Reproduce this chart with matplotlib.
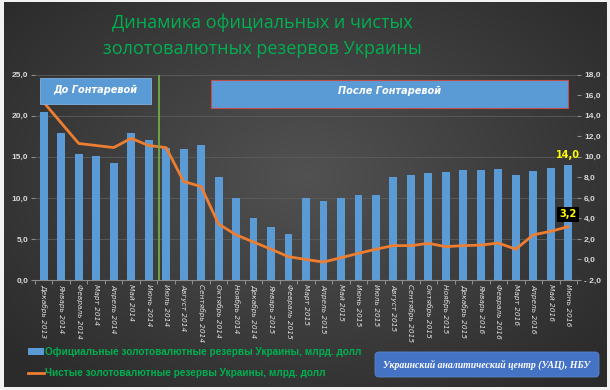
import numpy as np
import matplotlib
matplotlib.use("Agg")
import matplotlib.pyplot as plt
from matplotlib.patches import Rectangle, FancyBboxPatch

months = ["Декабрь 2013", "Январь 2014", "Февраль 2014", "Март 2014", "Апрель 2014",
          "Май 2014", "Июнь 2014", "Июль 2014", "Август 2014", "Сентябрь 2014",
          "Октябрь 2014", "Ноябрь 2014", "Декабрь 2014", "Январь 2015", "Февраль 2015",
          "Март 2015", "Апрель 2015", "Май 2015", "Июнь 2015", "Июль 2015",
          "Август 2015", "Сентябрь 2015", "Октябрь 2015", "Ноябрь 2015", "Декабрь 2015",
          "Январь 2016", "Февраль 2016", "Март 2016", "Апрель 2016", "Май 2016", "Июнь 2016"]
official = [20.4, 17.9, 15.4, 15.1, 14.25, 17.9, 17.1, 16.1, 16.0, 16.4,
            12.6, 9.95, 7.5, 6.4, 5.6, 10.0, 9.6, 10.0, 10.3, 10.4,
            12.6, 12.8, 13.0, 13.2, 13.35, 13.4, 13.5, 12.75, 13.3, 13.6, 14.0]
net = [15.3, 13.3, 11.3, 11.1, 10.9, 11.8, 11.1, 10.9, 7.6, 7.1,
       3.45, 2.4, 1.7, 1.0, 0.27, 0.0, -0.25, 0.17, 0.6, 1.0,
       1.35, 1.35, 1.57, 1.25, 1.35, 1.4, 1.6, 1.0, 2.4, 2.74, 3.2]
left_ticks = [0, 5, 10, 15, 20, 25]
right_ticks = [-2, 0, 2, 4, 6, 8, 10, 12, 14, 16, 18]

W, H = 610, 390
fig = plt.figure(figsize=(W / 100, H / 100), dpi=100)

def fx(x):
    return x / W

def fy(y):
    return 1 - y / H

def fmt(v):
    return f"{v:.1f}".replace(".", ",")

# background with radial gradient
bg = fig.add_axes([0, 0, 1, 1])
bg.set_axis_off()
yy, xx = np.mgrid[0:H, 0:W]
r = np.sqrt(((xx - W * 0.5) / (W * 0.6)) ** 2 + ((yy - H * 0.45) / (H * 0.65)) ** 2)
val = np.clip(0.32 - 0.14 * r, 0.17, 0.33)
img = np.dstack([val, val, val])
bg.imshow(img, extent=[0, W, H, 0], aspect="auto", interpolation="bilinear")
bg.set_xlim(0, W)
bg.set_ylim(H, 0)
for (x0, y0, w, h) in [(0, 0, 4, H), (W - 3, 0, 3, H), (0, 0, W, 2), (0, H - 3, W, 3)]:
    bg.add_patch(Rectangle((x0, y0), w, h, color="#f2f2f2", lw=0))

TICKFONT = dict(fontsize=6, color="#d9d9d9", fontweight="bold", family="Liberation Sans")

# main axes
ax = fig.add_axes([fx(35), fy(280), fx(577) - fx(35), fy(74.7) - fy(280)])
ax.patch.set_alpha(0)
x = np.arange(len(months))
ax.bar(x, official, width=0.45, color="#5b9bd5", zorder=2)
ax.set_xlim(-0.5, len(months) - 0.5)
ax.set_ylim(0, 25)
ax.set_yticks(left_ticks)
ax.set_yticklabels([fmt(v) for v in left_ticks], **TICKFONT)
ax.grid(axis="y", color="#5c5c5c", lw=0.6, zorder=0)
ax.set_axisbelow(True)
ax.set_xticks(np.arange(-0.5, len(months), 1), minor=False)
ax.set_xticklabels([])
ax.set_xticks(x, minor=True)
ax.set_xticklabels(months, minor=True, rotation=270, fontsize=5.3, style="italic",
                   color="#e0e0e0", va="top", ha="center")
ax.tick_params(axis="x", which="minor", length=0, pad=3)
ax.tick_params(axis="x", which="major", length=3, color="#8c8c8c")
ax.tick_params(axis="y", length=3, color="#8c8c8c", pad=2)
for s in ["top", "right", "left"]:
    ax.spines[s].set_visible(False)
ax.spines["bottom"].set_color("#8c8c8c")
ax.spines["bottom"].set_linewidth(0.8)

ax2 = ax.twinx()
ax2.set_ylim(-2, 18)
ax2.set_yticks(right_ticks)
ax2.set_yticklabels([fmt(v).replace("-", "- ") for v in right_ticks], **TICKFONT)
ax2.tick_params(axis="y", length=3, color="#8c8c8c", pad=2)
for s in ["top", "right", "left", "bottom"]:
    ax2.spines[s].set_visible(False)
ax2.plot(x, net, color="#ed7d31", lw=2.0, zorder=3, solid_joinstyle="round")

# green divider line
ax2.plot([6.6, 6.6], [-2, 18], color="#70ad47", lw=1.3, zorder=4)

# annotations
ax.text(x[-1], official[-1] + 0.6, fmt(official[-1]), color="#ffff00", fontsize=7,
        fontweight="bold", ha="center", va="bottom", zorder=6)
ax2.text(x[-1], net[-1] + 0.7, fmt(net[-1]), color="#ffff00",
         fontsize=7, fontweight="bold", ha="center", va="bottom", zorder=6,
         bbox=dict(boxstyle="square,pad=0.25", fc="black", ec="none"))

# overlay for boxes and texts
ov = fig.add_axes([0, 0, 1, 1])
ov.set_axis_off()
ov.set_xlim(0, W)
ov.set_ylim(H, 0)
ov.patch.set_alpha(0)

ov.add_patch(Rectangle((40, 78), 111, 26, fc="#5b9bd5", ec="#7fb2e0", lw=0.6, zorder=5))
ov.text(95.5, 90, "До Гонтаревой", color="white", fontsize=7, fontweight="bold",
        style="italic", ha="center", va="center", zorder=6)
ov.add_patch(Rectangle((210.7, 80), 357.6, 27.7, fc="#5b9bd5", ec="#c0504d", lw=0.8, zorder=5))
ov.text(390, 91, "После Гонтаревой", color="white", fontsize=7, fontweight="bold",
        style="italic", ha="center", va="center", zorder=6)

# title
ov.text(262, 23, "Динамика официальных и чистых", color="#00b050", fontsize=13,
        ha="center", va="center", family="Open Sans")
ov.text(262, 49, "золотовалютных резервов Украины", color="#00b050", fontsize=13,
        ha="center", va="center", family="Open Sans")

# legend
LEGFONT = dict(color="#00b050", fontsize=7.2, fontweight="bold", family="Liberation Sans",
               ha="left", va="center")
ov.add_patch(Rectangle((28, 348), 16, 7, fc="#5b9bd5", ec="none"))
ov.text(45, 352, "Официальные золотовалютные резервы Украины, млрд. долл", **LEGFONT)
ov.plot([28, 44], [373, 373], color="#ed7d31", lw=2)
ov.text(45, 373, "Чистые золотовалютные резервы Украины, млрд. долл", **LEGFONT)

# source box
ov.add_patch(FancyBboxPatch((375, 352), 224, 25, boxstyle="round,pad=0,rounding_size=4",
                            fc="#4472c4", ec="#5b84cc", lw=0.6))
ov.text(487, 364.5, "Украинский аналитический центр (УАЦ), НБУ", color="white",
        fontsize=7, fontweight="bold", style="italic", family="Liberation Serif",
        ha="center", va="center")

fig.savefig("out.png", dpi=100)
